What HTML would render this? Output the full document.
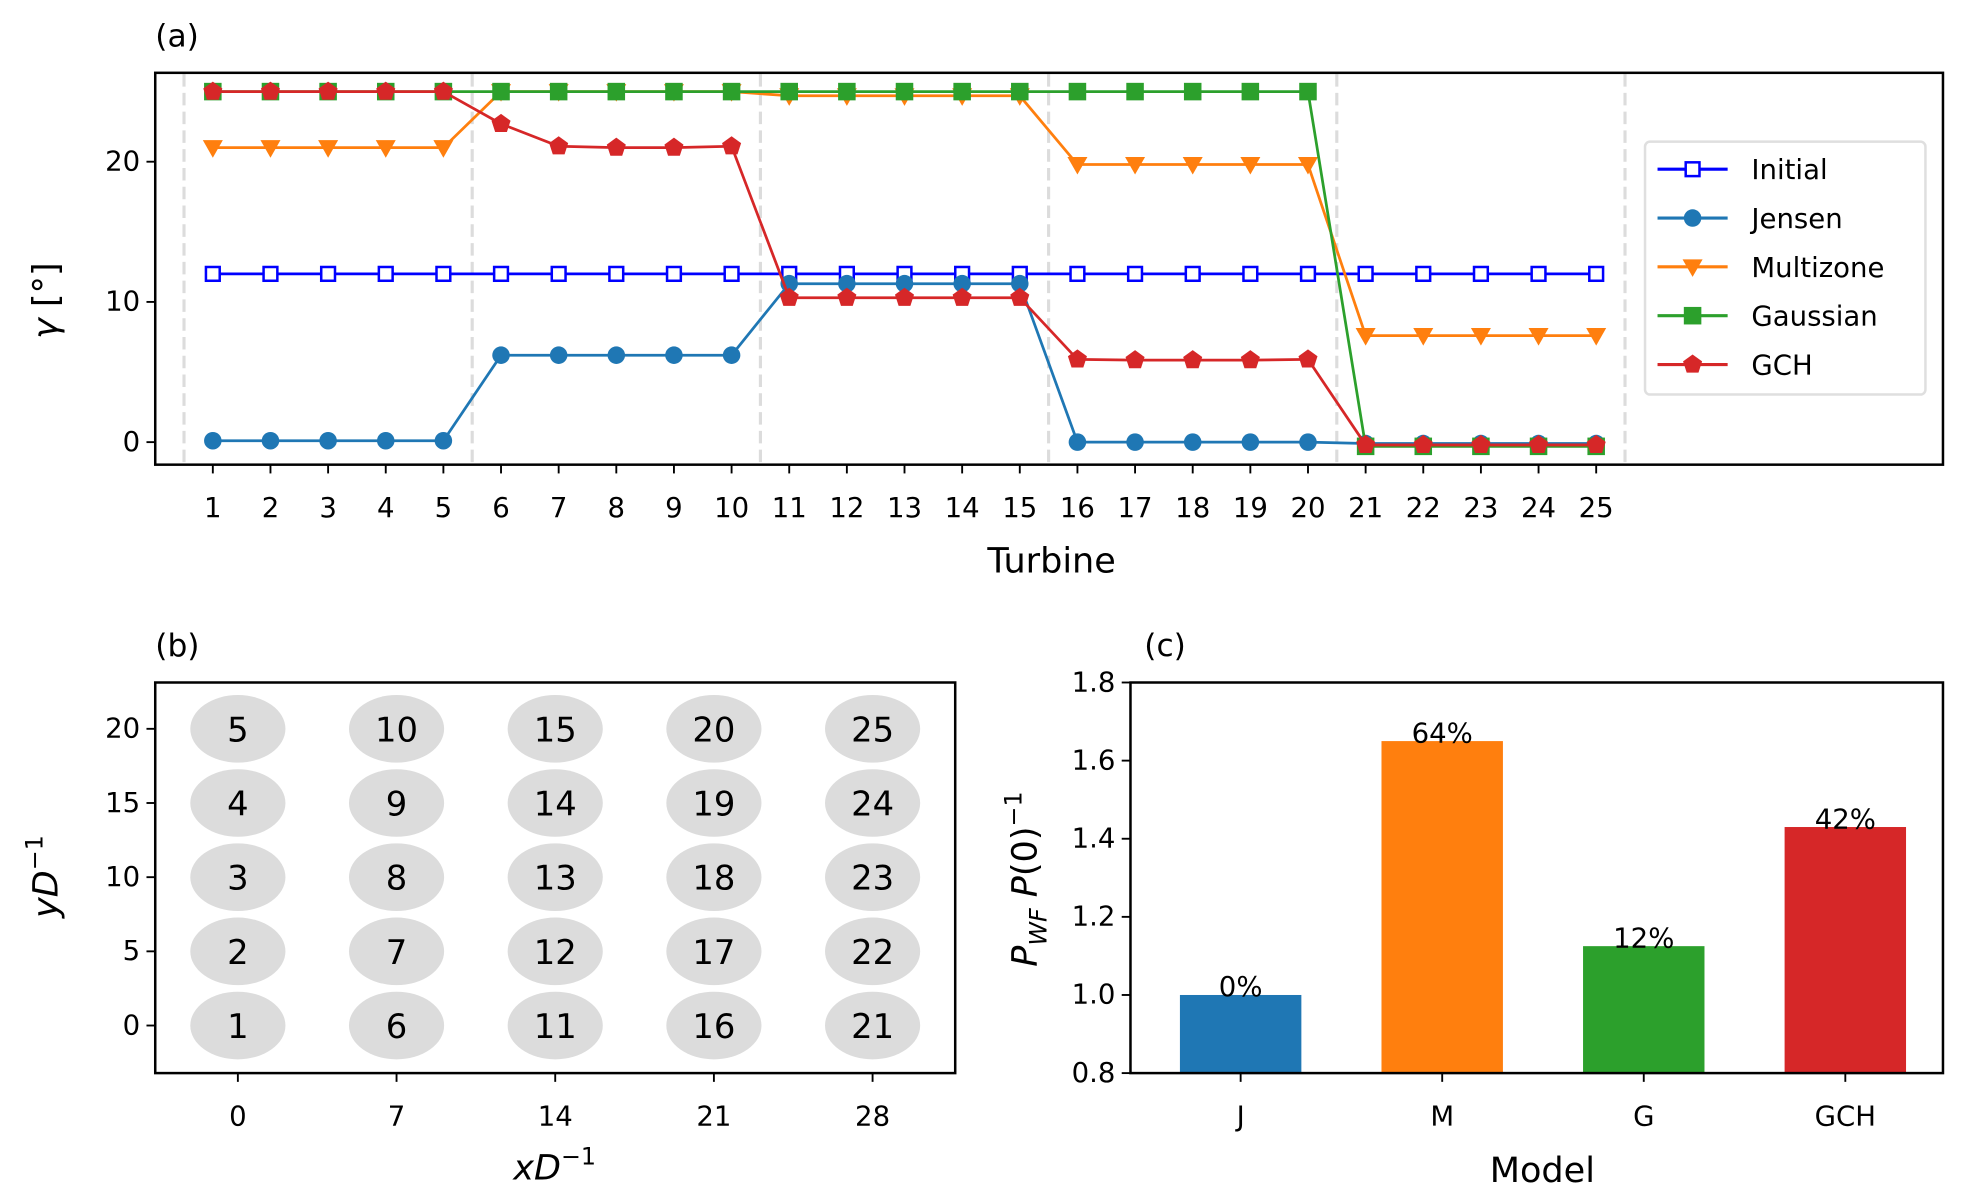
<!DOCTYPE html>
<html><head><meta charset="utf-8"><style>
html,body{margin:0;padding:0;background:#fff;}
svg{display:block;font-family:"DejaVu Sans","Liberation Sans",sans-serif;}
</style></head><body>
<svg id="fig" width="1963" height="1201" viewBox="0 0 1568 959" xmlns="http://www.w3.org/2000/svg">
<g id="pa"></g>
<g id="pb"></g>
<g id="pc"></g>
</svg>
<script>
const turbines = Array.from({length:25},(_,i)=>i+1);
const initialYaw = [12,12,12,12,12,12,12,12,12,12,12,12,12,12,12,12,12,12,12,12,12,12,12,12,12];
const jensenYaw = [0.1,0.1,0.1,0.1,0.1,6.2,6.2,6.2,6.2,6.2,11.3,11.3,11.3,11.3,11.3,0,0,0,0,0,-0.1,-0.1,-0.1,-0.1,-0.1];
const multizoneYaw = [21,21,21,21,21,25,25,25,25,25,24.7,24.7,24.7,24.7,24.7,19.8,19.8,19.8,19.8,19.8,7.6,7.6,7.6,7.6,7.6];
const gaussianYaw = [25,25,25,25,25,25,25,25,25,25,25,25,25,25,25,25,25,25,25,25,-0.3,-0.3,-0.3,-0.3,-0.3];
const gchYaw = [25,25,25,25,25,22.7,21.1,21.0,21.0,21.1,10.3,10.3,10.3,10.3,10.3,5.9,5.85,5.85,5.85,5.9,-0.2,-0.2,-0.2,-0.2,-0.2];
const yawTicks = [0,10,20];
const layoutX = [0,7,14,21,28];
const layoutY = [0,5,10,15,20];
const models = ["J","M","G","GCH"];
const powerRatio = [1.0,1.65,1.125,1.43];
const gainLabels = ["0%","64%","12%","42%"];
const powerTicks = [0.8,1.0,1.2,1.4,1.6,1.8];

const NS="http://www.w3.org/2000/svg";
function mk(parent,tag,attrs,text){const e=document.createElementNS(NS,tag);for(const k in attrs)e.setAttribute(k,attrs[k]);if(text!==undefined)e.textContent=text;parent.appendChild(e);return e;}

// ---------- Panel A ----------
const pa=document.getElementById('pa');
const ax=t=>170+(t-1)*(1275-170)/24;
const ay=v=>353-v*11.2;
let e=mk(pa,'text',{x:124,y:37,'font-size':25},'(a)');

[0.5,5.5,10.5,15.5,20.5,25.5].forEach(g=>{const l=mk(pa,'line',{x1:ax(g),x2:ax(g),y1:59,y2:370,stroke:'#dcdcdc','stroke-width':2.5,'stroke-dasharray':'10,5'});
});
function marker(g,type,x,y,col){
 if(type==='sq')return mk(g,'rect',{x:x-5.5,y:y-5.5,width:11,height:11,fill:'#fff',stroke:col,'stroke-width':2});
 if(type==='circ')return mk(g,'circle',{cx:x,cy:y,r:7,fill:col});
 if(type==='tri')return mk(g,'polygon',{points:`${x-8},${y-6} ${x+8},${y-6} ${x},${y+8}`,fill:col});
 if(type==='fsq')return mk(g,'rect',{x:x-7,y:y-7,width:14,height:14,fill:col});
 if(type==='pent'){let p=[];for(let i=0;i<5;i++){const a=-Math.PI/2+i*2*Math.PI/5;p.push((x+8*Math.cos(a))+','+(y+8*Math.sin(a)));}return mk(g,'polygon',{points:p.join(' '),fill:col});}
}
const series=[['initial',initialYaw,'#0000ff','sq','Initial'],['jensen',jensenYaw,'#1f77b4','circ','Jensen'],['multizone',multizoneYaw,'#ff7f0e','tri','Multizone'],['gaussian',gaussianYaw,'#2ca02c','fsq','Gaussian'],['gch',gchYaw,'#d62728','pent','GCH']];
series.forEach(([n,vals,col,m])=>{
 const g=mk(pa,'g',{});
 const l=mk(g,'polyline',{points:vals.map((v,i)=>ax(turbines[i])+','+ay(v)).join(' '),fill:'none',stroke:col,'stroke-width':2.2});
 
 vals.forEach((v,i)=>{const p=marker(g,m,ax(turbines[i]),ay(v),col);});
});
e=mk(pa,'rect',{x:124,y:58,width:1428,height:313,fill:'none',stroke:'#000','stroke-width':2});

turbines.forEach(t=>{mk(pa,'line',{x1:ax(t),x2:ax(t),y1:371,y2:378,stroke:'#000','stroke-width':1.5});
 const tx=mk(pa,'text',{x:ax(t),y:413,'font-size':22,'text-anchor':'middle'},String(t));});
yawTicks.forEach(v=>{mk(pa,'line',{x1:117,x2:124,y1:ay(v),y2:ay(v),stroke:'#000','stroke-width':1.5});
 const tx=mk(pa,'text',{x:112,y:ay(v)+7,'font-size':22,'text-anchor':'end'},String(v));});
e=mk(pa,'text',{x:840,y:457,'font-size':28,'text-anchor':'middle'},'Turbine');
e=mk(pa,'text',{x:0,y:0,'font-size':28,'text-anchor':'middle',transform:'translate(46,240) rotate(-90)'});
e.innerHTML='<tspan font-style="italic">γ</tspan> [°]';
const lg=mk(pa,'g',{});
mk(lg,'rect',{x:1314,y:113,width:224,height:202,rx:4,fill:'#fff',stroke:'#dcdcdc','stroke-width':2,opacity:0.9});
series.forEach(([n,vals,col,m,lab],i)=>{const y=135+i*39;const g=mk(lg,'g',{});
 mk(g,'line',{x1:1324,x2:1380,y1:y,y2:y,stroke:col,'stroke-width':2.5});marker(g,m,1352,y,col);
 mk(g,'text',{x:1399,y:y+8,'font-size':22},lab);});

// ---------- Panel B ----------
const pb=document.getElementById('pb');
const bx=v=>190+v*(697-190)/28;
const by=v=>819-v*(819-582)/20;
e=mk(pb,'text',{x:124,y:524,'font-size':25},'(b)');
layoutX.forEach((xv,i)=>layoutY.forEach((yv,j)=>{const g=mk(pb,'g',{});
 mk(g,'ellipse',{cx:bx(xv),cy:by(yv),rx:38,ry:27,fill:'#dcdcdc'});
 mk(g,'text',{x:bx(xv),y:by(yv)+10,'font-size':27,'text-anchor':'middle'},String(i*5+j+1));}));
e=mk(pb,'rect',{x:124,y:545,width:639,height:312,fill:'none',stroke:'#000','stroke-width':2});
layoutX.forEach(v=>{mk(pb,'line',{x1:bx(v),x2:bx(v),y1:857,y2:864,stroke:'#000','stroke-width':1.5});
 const t=mk(pb,'text',{x:bx(v),y:899,'font-size':22,'text-anchor':'middle'},String(v));});
layoutY.forEach(v=>{mk(pb,'line',{x1:117,x2:124,y1:by(v),y2:by(v),stroke:'#000','stroke-width':1.5});
 const t=mk(pb,'text',{x:112,y:by(v)+7,'font-size':22,'text-anchor':'end'},String(v));});
e=mk(pb,'text',{x:443,y:942,'font-size':28,'text-anchor':'middle'});e.innerHTML='<tspan font-style="italic">xD</tspan><tspan font-size="19" dy="-12">−1</tspan>';

e=mk(pb,'text',{x:0,y:0,'font-size':28,'text-anchor':'middle',transform:'translate(46,700) rotate(-90)'});e.innerHTML='<tspan font-style="italic">yD</tspan><tspan font-size="19" dy="-12">−1</tspan>';


// ---------- Panel C ----------
const pc=document.getElementById('pc');
const cy=v=>857-(v-0.8)*312;
const cx=i=>991+i*161;
e=mk(pc,'text',{x:914,y:524,'font-size':25},'(c)');
const cols=['#1f77b4','#ff7f0e','#2ca02c','#d62728'];
models.forEach((m,i)=>{const r=mk(pc,'rect',{x:cx(i)-48.5,y:cy(powerRatio[i]),width:97,height:857-cy(powerRatio[i]),fill:cols[i]});
 
 const t=mk(pc,'text',{x:cx(i),y:cy(powerRatio[i])+1,'font-size':22,'text-anchor':'middle'},gainLabels[i]);
 mk(pc,'line',{x1:cx(i),x2:cx(i),y1:857,y2:864,stroke:'#000','stroke-width':1.5});
 const tl=mk(pc,'text',{x:cx(i),y:899,'font-size':22,'text-anchor':'middle'},m);});
e=mk(pc,'rect',{x:903,y:545,width:649,height:312,fill:'none',stroke:'#000','stroke-width':2});
powerTicks.forEach(v=>{mk(pc,'line',{x1:896,x2:903,y1:cy(v),y2:cy(v),stroke:'#000','stroke-width':1.5});
 const t=mk(pc,'text',{x:891,y:cy(v)+7,'font-size':22,'text-anchor':'end'},v.toFixed(1));});
e=mk(pc,'text',{x:1232,y:944,'font-size':28,'text-anchor':'middle'},'Model');
e=mk(pc,'text',{x:0,y:0,'font-size':28,'text-anchor':'middle',transform:'translate(828,702) rotate(-90)'});
e.innerHTML='<tspan font-style="italic">P</tspan><tspan font-style="italic" font-size="19" dy="8">WF</tspan><tspan dy="-8"> </tspan><tspan font-style="italic">P</tspan>(0)<tspan font-size="19" dy="-12">−1</tspan>';

</script>
</body></html>
